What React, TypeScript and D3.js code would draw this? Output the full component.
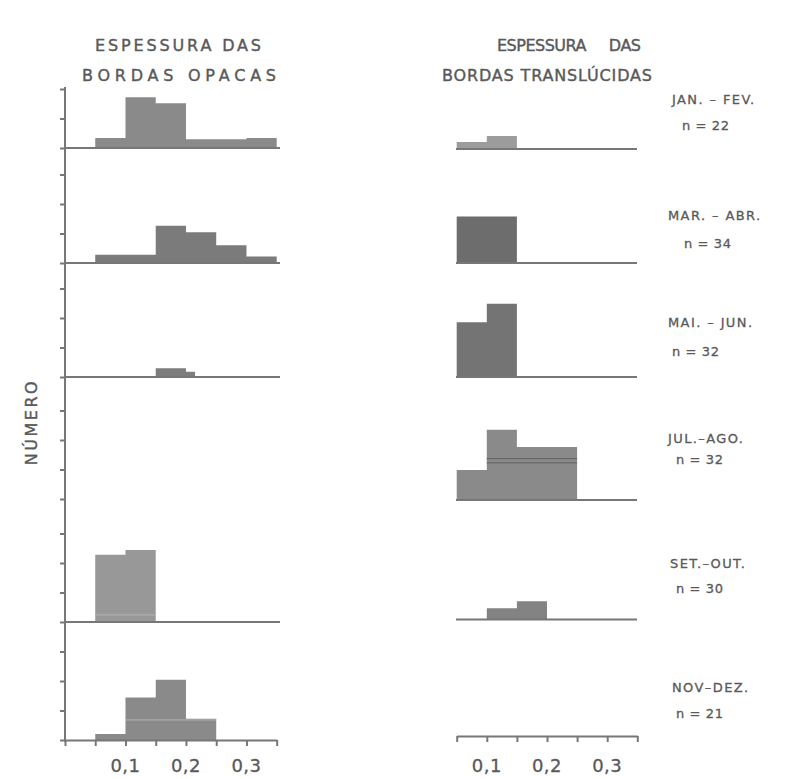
import React, { useEffect, useRef } from 'react';
import * as d3 from 'd3';

// Bimonthly periods and sample sizes (right-hand labels)
const periods = ['JAN. – FEV.', 'MAR. – ABR.', 'MAI. – JUN.', 'JUL.–AGO.', 'SET.–OUT.', 'NOV–DEZ.'];
const sampleSizes = [22, 34, 32, 32, 30, 21];

// Thickness tick labels (mm)
const xTickValues = [0.1, 0.2, 0.3];
const xTickLabels = ['0,1', '0,2', '0,3'];

// Histogram bins as [from, to, count], one list per period
const opacas: number[][][] = [
    [[0.05, 0.10, 1.7], [0.10, 0.15, 8.6], [0.15, 0.20, 7.6], [0.20, 0.25, 1.5], [0.25, 0.30, 1.5], [0.30, 0.35, 1.7]],
    [[0.05, 0.10, 1.4], [0.10, 0.15, 1.4], [0.15, 0.20, 6.3], [0.20, 0.25, 5.2], [0.25, 0.30, 3.0], [0.30, 0.35, 1.1]],
    [[0.15, 0.20, 1.5], [0.20, 0.215, 0.9]],
    [],
    [[0.05, 0.10, 11.4], [0.10, 0.15, 12.2]],
    [[0.05, 0.10, 1.0], [0.10, 0.15, 7.2], [0.15, 0.20, 10.2], [0.20, 0.25, 3.6]],
];

const translucidas: number[][][] = [
    [[0.05, 0.10, 1.2], [0.10, 0.15, 2.2]],
    [[0.05, 0.10, 7.9], [0.10, 0.15, 7.9]],
    [[0.05, 0.10, 9.3], [0.10, 0.15, 12.4]],
    [[0.05, 0.10, 5.1], [0.10, 0.15, 11.9], [0.15, 0.20, 9.0], [0.20, 0.25, 9.0]],
    [[0.10, 0.15, 1.9], [0.15, 0.20, 3.1]],
    [],
];

// faint print marks inside some bars: [column, row, from, to, level]
const printMarks: number[][] = [
    [0, 4, 0.05, 0.15, 1.2],
    [0, 5, 0.10, 0.25, 3.4],
    [1, 3, 0.10, 0.25, 7.0],
    [1, 3, 0.10, 0.25, 6.3],
];

export default function App() {
    const svgRef = useRef<SVGSVGElement>(null);

    useEffect(() => {
        document.body.style.margin = '0';
        const svg = d3.select(svgRef.current);
        svg.selectAll('*').remove();

        const ink = '#777';
        const textColor = '#595959';
        const font = 'DejaVu Sans, sans-serif';

        // row layout
        const baseL = [148, 263, 377, 499, 622, 740];
        const baseR = [149, 263, 377, 500, 619.5, 736];
        const unit = 5.9; // px per count
        const rowY = (base: number) => d3.scaleLinear().domain([0, 15]).range([base, base - 15 * unit]);

        const xL = d3.scaleLinear().domain([0, 0.35]).range([65, 276.7]);
        const xR = d3.scaleLinear().domain([0.05, 0.35]).range([456.7, 637.3]);

        const fillsL = ['#8a8a8a', '#7b7b7b', '#7d7d7d', '#888', '#989898', '#8a8a8a'];
        const fillsR = ['#9c9c9c', '#6d6d6d', '#747474', '#8a8a8a', '#838383', '#888'];

        // titles
        const titles = [
            { text: 'ESPESSURA DAS', x: 95, y: 51, len: 166 },
            { text: 'BORDAS OPACAS', x: 82, y: 81, len: 194 },
            { text: 'ESPESSURA     DAS', x: 497, y: 51, len: 144 },
            { text: 'BORDAS TRANSLÚCIDAS', x: 442, y: 81, len: 210 },
        ];
        svg.append('g').selectAll('text').data(titles).join('text')
            .attr('x', d => d.x).attr('y', d => d.y)
            .attr('textLength', d => d.len).attr('lengthAdjust', 'spacing')
            .attr('font-family', font).attr('font-size', 16)
            .attr('fill', textColor).attr('stroke', textColor).attr('stroke-width', 0.4)
            .style('white-space', 'pre')
            .text(d => d.text);

        // y axis title
        svg.append('text')
            .attr('transform', 'translate(37,422) rotate(-90)')
            .attr('text-anchor', 'middle')
            .attr('font-family', font).attr('font-size', 16)
            .attr('letter-spacing', 2.5)
            .attr('fill', textColor).attr('stroke', textColor).attr('stroke-width', 0.4)
            .text('NÚMERO');

        // left vertical axis line
        svg.append('line')
            .attr('x1', 65).attr('x2', 65).attr('y1', 87).attr('y2', 742)
            .attr('stroke', ink).attr('stroke-width', 2);

        // one path per histogram so adjacent bins show no seam
        const histPath = (bins: number[][], x: d3.ScaleLinear<number, number>, y: d3.ScaleLinear<number, number>) =>
            bins.map(d => `M${x(d[0])},${y(0)}V${y(d[2])}H${x(d[1])}V${y(0)}Z`).join('');

        periods.forEach((p, i) => {
            const yl = rowY(baseL[i]);
            const yr = rowY(baseR[i]);

            // left ticks for this row
            const tv = i === 0 ? [0, 5, 10] : [0, 5, 10, 15];
            const ax = svg.append('g')
                .attr('transform', 'translate(65,0)')
                .call(d3.axisLeft(yl).tickValues(tv).tickSize(5).tickFormat(() => ''));
            ax.select('.domain').remove();
            ax.selectAll('line').attr('stroke', ink).attr('stroke-width', 2);

            // bars
            if (opacas[i].length) {
                svg.append('path').attr('d', histPath(opacas[i], xL, yl)).attr('fill', fillsL[i]);
            }
            if (translucidas[i].length) {
                svg.append('path').attr('d', histPath(translucidas[i], xR, yr)).attr('fill', fillsR[i]);
            }

            // baselines
            if (i !== 3 && i !== 5) {
                svg.append('line')
                    .attr('x1', 65).attr('x2', 280).attr('y1', yl(0)).attr('y2', yl(0))
                    .attr('stroke', ink).attr('stroke-width', 2);
            }
            if (i !== 5) {
                svg.append('line')
                    .attr('x1', 456).attr('x2', 637).attr('y1', yr(0)).attr('y2', yr(0))
                    .attr('stroke', ink).attr('stroke-width', 2);
            }
        });

        // faint marks
        printMarks.forEach(([c, r, a, b, v]) => {
            const x = c === 0 ? xL : xR;
            const y = rowY(c === 0 ? baseL[r] : baseR[r]);
            svg.append('line')
                .attr('x1', x(a)).attr('x2', x(b)).attr('y1', y(v)).attr('y2', y(v))
                .attr('stroke', c === 0 ? '#b4b4b4' : '#5e5e5e').attr('stroke-width', 1);
        });

        // bottom axes
        const binTicks = d3.range(0, 7.5).map(k => +(k * 0.05).toFixed(2));
        const bl = svg.append('g')
            .attr('transform', `translate(0,${baseL[5]})`)
            .call(d3.axisBottom(xL).tickValues(binTicks).tickSize(6).tickSizeOuter(0).tickFormat(() => ''));
        bl.selectAll('line, path').attr('stroke', ink).attr('stroke-width', 2);

        const br = svg.append('g')
            .attr('transform', `translate(0,${baseR[5]})`)
            .call(d3.axisBottom(xR).tickValues(binTicks.slice(1)).tickSize(6).tickSizeOuter(0).tickFormat(() => ''));
        br.selectAll('line, path').attr('stroke', ink).attr('stroke-width', 2);

        // tick labels
        [xL, xR].forEach(x => {
            svg.append('g').selectAll('text').data(xTickValues).join('text')
                .attr('x', d => x(d)).attr('y', 772)
                .attr('text-anchor', 'middle')
                .attr('font-family', font).attr('font-size', 18)
                .attr('letter-spacing', 0.5)
                .attr('fill', textColor).attr('stroke', textColor).attr('stroke-width', 0.3)
                .text((d, k) => xTickLabels[k]);
        });

        // period labels
        const labelPos = [
            [672, 104, 682, 130], [668, 220, 684, 248], [668, 327, 672, 356],
            [668, 443, 676, 464], [670, 568, 676, 593], [672, 692, 676, 718],
        ];
        periods.forEach((p, i) => {
            const [px, py, nx, ny] = labelPos[i];
            svg.append('text')
                .attr('x', px).attr('y', py)
                .attr('font-family', font).attr('font-size', 13)
                .attr('letter-spacing', 1.4)
                .attr('fill', textColor).attr('stroke', textColor).attr('stroke-width', 0.3)
                .text(p);
            svg.append('text')
                .attr('x', nx).attr('y', ny)
                .attr('font-family', font).attr('font-size', 13)
                .attr('letter-spacing', 0.6)
                .attr('fill', textColor).attr('stroke', textColor).attr('stroke-width', 0.3)
                .text(`n = ${sampleSizes[i]}`);
        });
    }, []);

    return <svg ref={svgRef} width={790} height={779} style={{ display: 'block' }}></svg>;
}
